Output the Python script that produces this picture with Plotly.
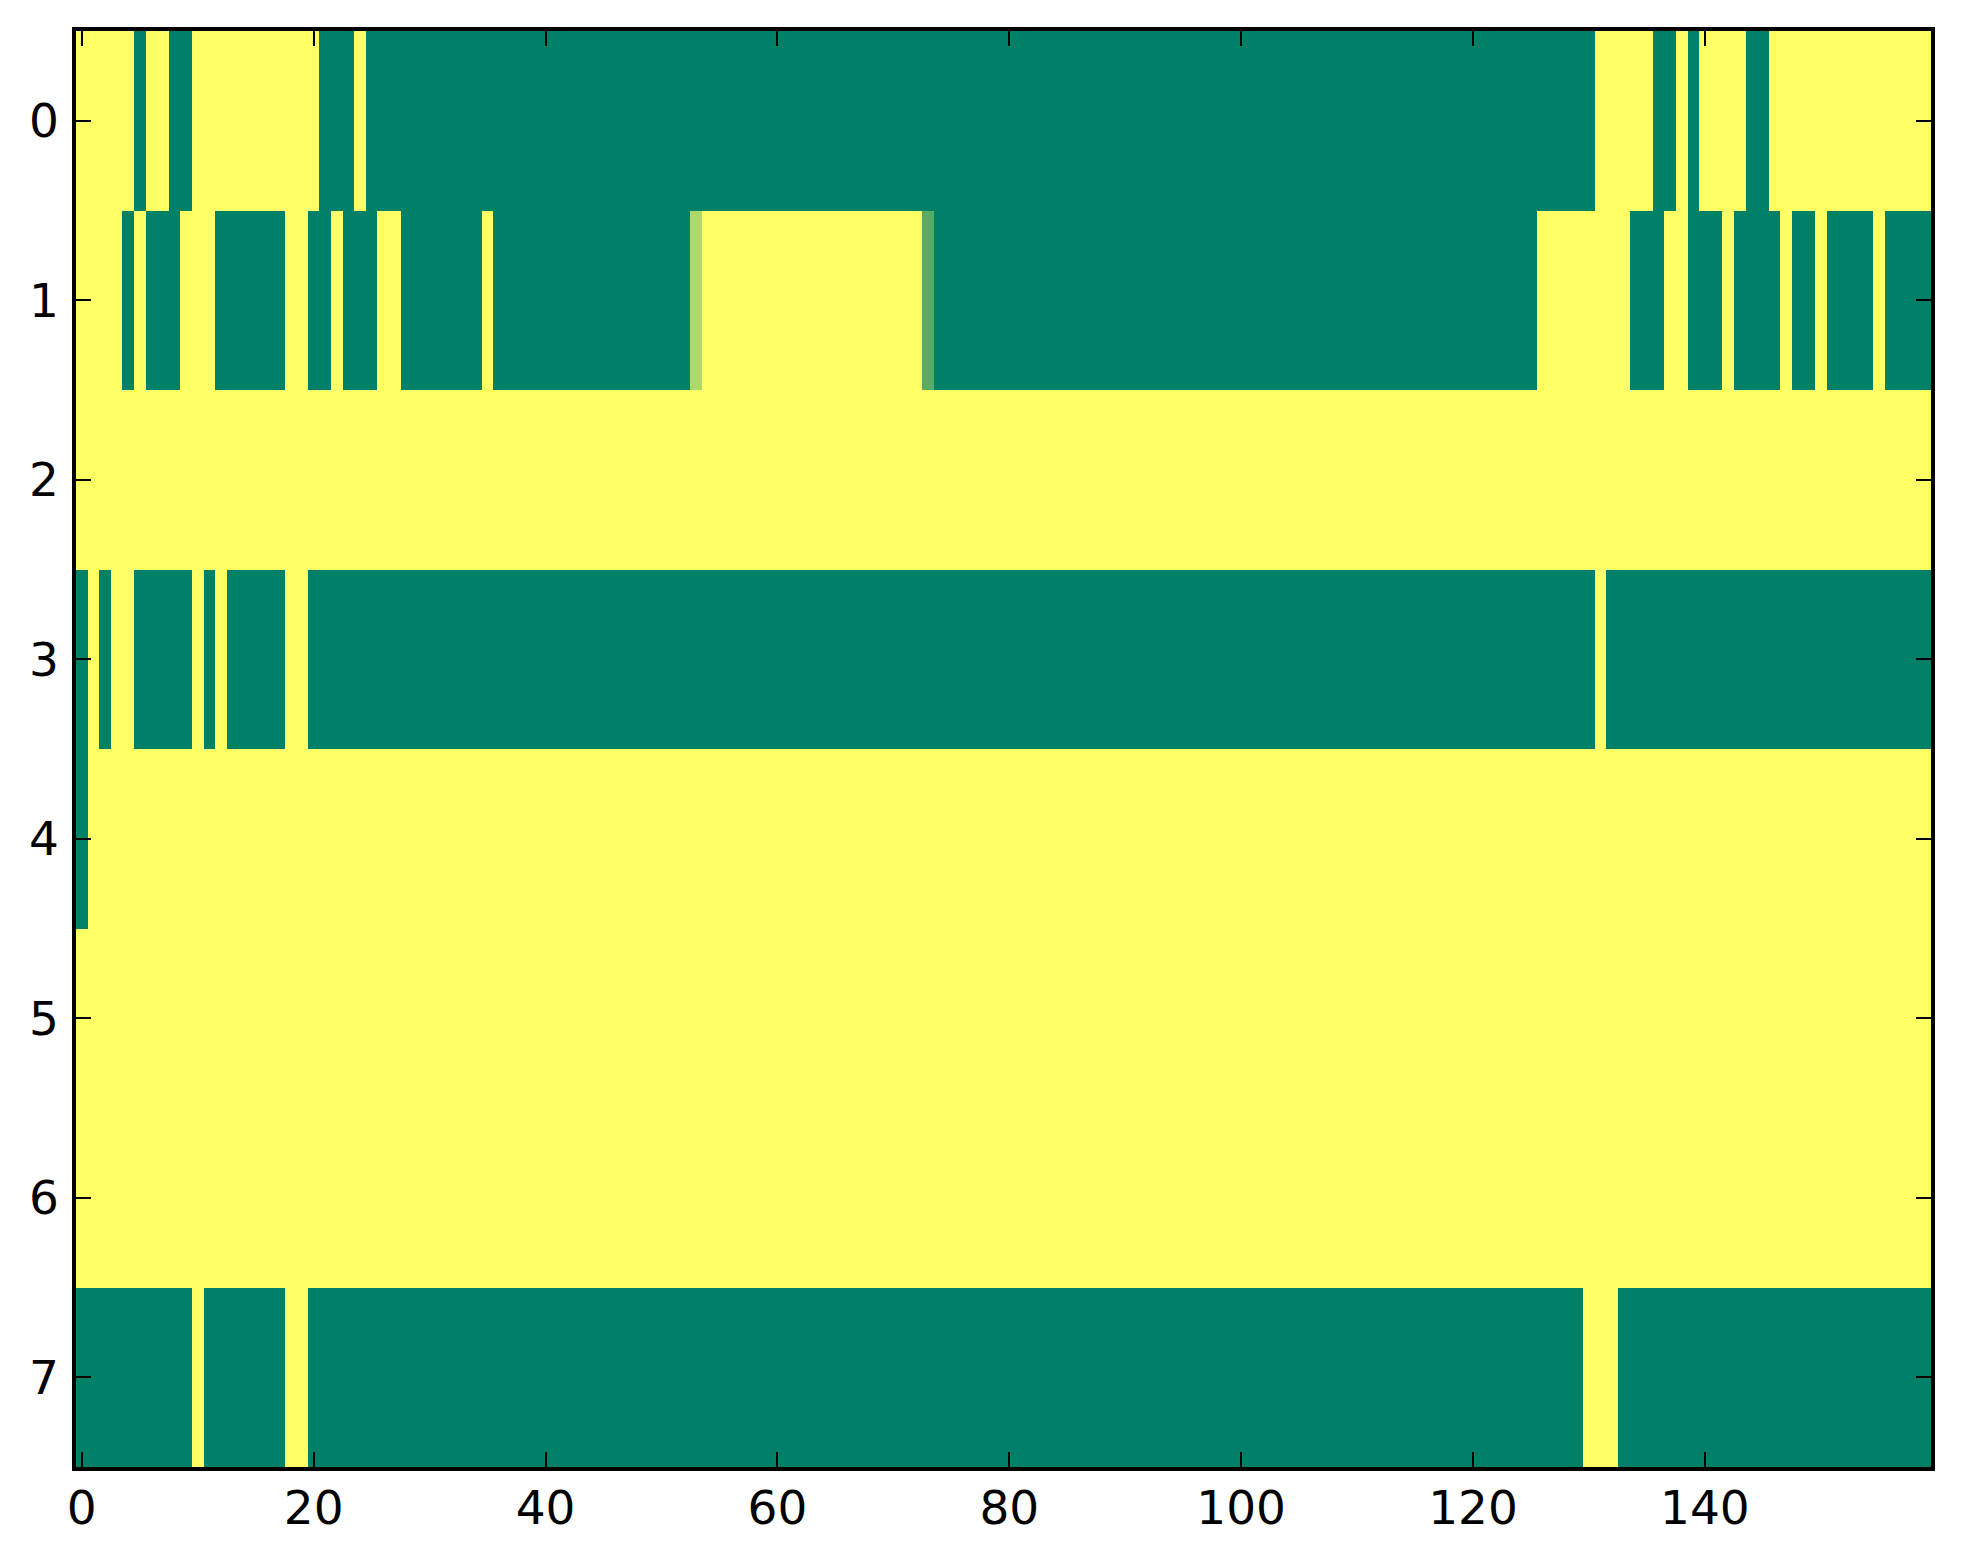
import numpy as np
import plotly.graph_objects as go

# each row of the image as (value, run length) pairs, 160 columns per row
# 0 = green end of the colormap, 1 = yellow end
row_0 = [(1, 5), (0, 1), (1, 2), (0, 2), (1, 11), (0, 3), (1, 1), (0, 106),
         (1, 5), (0, 2), (1, 1), (0, 1), (1, 4), (0, 2), (1, 14)]
row_1 = [(1, 4), (0, 1), (1, 1), (0, 3), (1, 3), (0, 6), (1, 2), (0, 2),
         (1, 1), (0, 3), (1, 2), (0, 7), (1, 1), (0, 17), (0.69, 1), (1, 19),
         (0.35, 1), (0, 52), (1, 8), (0, 3), (1, 2), (0, 3), (1, 1), (0, 4),
         (1, 1), (0, 2), (1, 1), (0, 4), (1, 1), (0, 4)]
row_2 = [(1, 160)]
row_3 = [(0, 1), (1, 1), (0, 1), (1, 2), (0, 5), (1, 1), (0, 1), (1, 1),
         (0, 5), (1, 2), (0, 111), (1, 1), (0, 28)]
row_4 = [(0, 1), (1, 159)]
row_5 = [(1, 160)]
row_6 = [(1, 160)]
row_7 = [(0, 10), (1, 1), (0, 7), (1, 2), (0, 110), (1, 3), (0, 27)]

rows = [row_0, row_1, row_2, row_3, row_4, row_5, row_6, row_7]
x_ticks = [0, 20, 40, 60, 80, 100, 120, 140]
y_ticks = [0, 1, 2, 3, 4, 5, 6, 7]


def expand(runs):
    out = []
    for val, n in runs:
        out += [val] * n
    return out


z = np.array([expand(r) for r in rows], dtype=float)

# matplotlib "summer" colormap: (v, 0.5 + v/2, 0.4)
summer = [[0.0, '#008066'], [1.0, '#ffff66']]

fig = go.Figure(go.Heatmap(
    z=z,
    x=np.arange(z.shape[1]),
    y=np.arange(z.shape[0]),
    colorscale=summer,
    zmin=0, zmax=1,
    showscale=False,
    hoverinfo='skip',
))

axis_style = dict(
    showgrid=False,
    zeroline=False,
    showline=True,
    linecolor='black',
    linewidth=3.5,
    mirror='ticks',
    ticks='inside',
    ticklen=15,
    tickwidth=2,
    tickcolor='black',
    tickfont=dict(family='DejaVu Sans', size=47, color='black'),
)

fig.update_xaxes(range=[-0.5, 159.5], tickvals=x_ticks, ticklabelstandoff=-3, **axis_style)
fig.update_yaxes(range=[7.5, -0.5], tickvals=y_ticks, ticklabelstandoff=4, **axis_style)

fig.update_layout(
    width=1963,
    height=1564,
    margin=dict(l=68, r=40, t=23, b=105),
    paper_bgcolor='white',
    plot_bgcolor='white',
)

fig.write_html("out.html")
